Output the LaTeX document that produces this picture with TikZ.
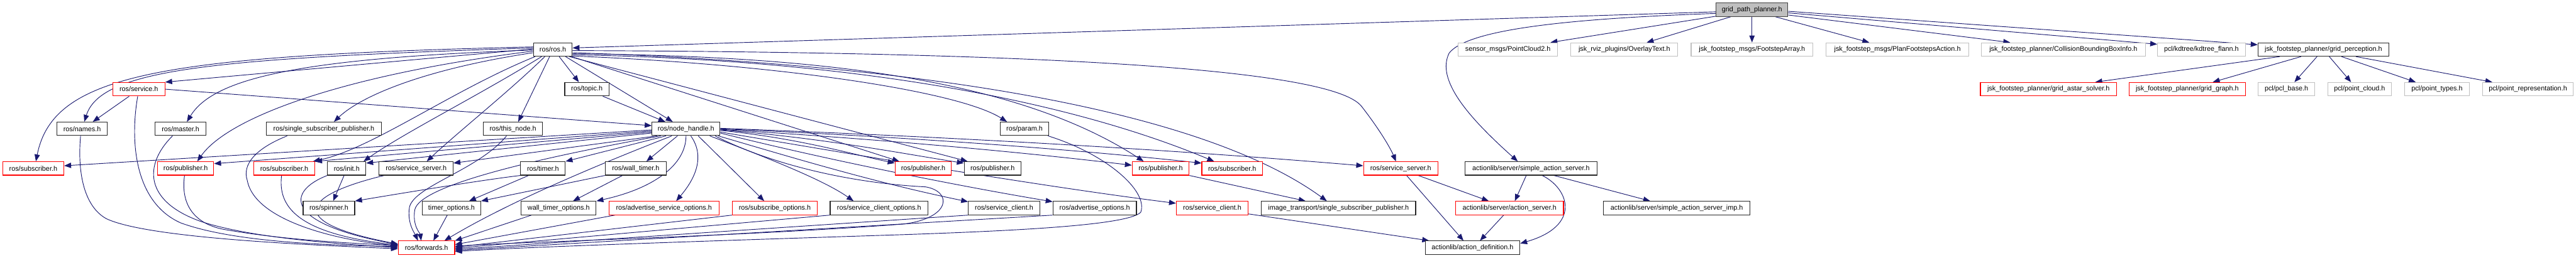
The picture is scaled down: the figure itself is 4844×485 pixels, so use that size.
\documentclass[tikz,border=0pt]{standalone}
\usepackage{fontspec}
\setmainfont{Liberation Sans}
\usetikzlibrary{arrows.meta,calc}
\definecolor{edgec}{HTML}{191970}
\definecolor{redb}{HTML}{FF0000}
\definecolor{grayb}{HTML}{BFBFBF}
\pgfdeclarelayer{bg}
\pgfsetlayers{bg,main}
\begin{document}
\begin{tikzpicture}[x=1pt,y=-1pt,
 box/.style={draw, line width=1.3pt, minimum height=25.3pt, inner sep=0pt, font=\fontsize{12.8}{14}\selectfont, anchor=center, fill=white},
 bk/.style={box, draw=black!85},
 rd/.style={box, draw=redb},
 gy/.style={box, draw=grayb},
 topbox/.style={box, draw=black!75, fill=grayb},
 lnk/.style={draw=edgec, line width=1.1pt, -{Triangle[length=13pt,width=10pt]}}
]
\useasboundingbox (0,0) rectangle (4844,485);
% row 0
\node[topbox, minimum width=135pt] (gpp) at (3294.5,18.3) {grid\_path\_planner.h};
% row 1
\node[bk, minimum width=73pt] (ros) at (1039.5,93.3) {ros/ros.h};
\node[gy, minimum width=187pt] (pc2) at (2835.5,93.3) {sensor\_msgs/PointCloud2.h};
\node[gy, minimum width=201pt] (overlay) at (3054.5,93.3) {jsk\_rviz\_plugins/OverlayText.h};
\node[gy, minimum width=229pt] (fsarray) at (3294.5,93.3) {jsk\_footstep\_msgs/FootstepArray.h};
\node[gy, minimum width=268pt] (planfs) at (3568,93.3) {jsk\_footstep\_msgs/PlanFootstepsAction.h};
\node[gy, minimum width=308pt] (cbbi) at (3880,93.3) {jsk\_footstep\_planner/CollisionBoundingBoxInfo.h};
\node[gy, minimum width=165pt] (kdtree) at (4139.5,93.3) {pcl/kdtree/kdtree\_flann.h};
\node[bk, minimum width=246pt] (gridperc) at (4369,93.3) {jsk\_footstep\_planner/grid\_perception.h};
% row 2
\node[rd, minimum width=98pt] (service) at (261,168) {ros/service.h};
\node[bk, minimum width=83pt] (topic) at (1103.5,168) {ros/topic.h};
\node[rd, minimum width=256pt] (astar) at (3852,168) {jsk\_footstep\_planner/grid\_astar\_solver.h};
\node[rd, minimum width=218pt] (gridgraph) at (4113,168) {jsk\_footstep\_planner/grid\_graph.h};
\node[gy, minimum width=107pt] (pclbase) at (4299.5,168) {pcl/pcl\_base.h};
\node[gy, minimum width=120pt] (pointcloud) at (4437,168) {pcl/point\_cloud.h};
\node[gy, minimum width=121pt] (pointtypes) at (4582.5,168) {pcl/point\_types.h};
\node[gy, minimum width=171pt] (pointrep) at (4753.5,168) {pcl/point\_representation.h};
% row 3
\node[bk, minimum width=95pt] (names) at (154.5,242.7) {ros/names.h};
\node[bk, minimum width=95pt] (master) at (339.5,242.7) {ros/master.h};
\node[bk, minimum width=216pt] (ssp) at (609,242.7) {ros/single\_subscriber\_publisher.h};
\node[bk, minimum width=111pt] (thisnode) at (964.5,242.7) {ros/this\_node.h};
\node[bk, minimum width=128pt] (nh) at (1290,242.7) {ros/node\_handle.h};
\node[bk, minimum width=91pt] (param) at (1926.5,242.7) {ros/param.h};
% row 4
\node[rd, minimum width=115pt] (sub1) at (62.5,317.3) {ros/subscriber.h};
\node[rd, minimum width=106pt] (pub1) at (349,317.3) {ros/publisher.h};
\node[rd, minimum width=115pt] (sub2) at (534.5,317.3) {ros/subscriber.h};
\node[bk, minimum width=72pt] (init) at (652,317.3) {ros/init.h};
\node[bk, minimum width=139pt] (ssrv) at (782.5,317.3) {ros/service\_server.h};
\node[bk, minimum width=84pt] (timer) at (1021,317.3) {ros/timer.h};
\node[bk, minimum width=115pt] (wtimer) at (1195.5,317.3) {ros/wall\_timer.h};
\node[rd, minimum width=106pt] (pub2) at (1736,317.3) {ros/publisher.h};
\node[bk, minimum width=107pt] (pubb) at (1866.5,317.3) {ros/publisher.h};
\node[rd, minimum width=107pt] (pub3) at (2182.5,317.3) {ros/publisher.h};
\node[rd, minimum width=114pt] (sub3) at (2317,317.3) {ros/subscriber.h};
\node[rd, minimum width=140pt] (rssrv) at (2634,317.3) {ros/service\_server.h};
\node[bk, minimum width=248pt] (sas) at (2879,317.3) {actionlib/server/simple\_action\_server.h};
% row 5
\node[bk, minimum width=97pt] (spinner) at (618.5,392) {ros/spinner.h};
\node[bk, minimum width=110pt] (topts) at (849,392) {timer\_options.h};
\node[bk, minimum width=141pt] (wtopts) at (1050.5,392) {wall\_timer\_options.h};
\node[rd, minimum width=207pt] (asopts) at (1248.5,392) {ros/advertise\_service\_options.h};
\node[rd, minimum width=160pt] (subopts) at (1457,392) {ros/subscribe\_options.h};
\node[bk, minimum width=184pt] (scopts) at (1653,392) {ros/service\_client\_options.h};
\node[bk, minimum width=134pt] (sclient) at (1888,392) {ros/service\_client.h};
\node[bk, minimum width=157pt] (advopts) at (2058.5,392) {ros/advertise\_options.h};
\node[rd, minimum width=135pt] (rsclient) at (2279.5,392) {ros/service\_client.h};
\node[bk, minimum width=290pt] (itssp) at (2517,392) {image\_transport/single\_subscriber\_publisher.h};
\node[rd, minimum width=203pt] (as) at (2838.5,392) {actionlib/server/action\_server.h};
\node[bk, minimum width=276pt] (sasimp) at (3153,392) {actionlib/server/simple\_action\_server\_imp.h};
% row 6
\node[rd, minimum width=106pt] (fwd) at (802,466.7) {ros/forwards.h};
\node[bk, minimum width=178pt] (ad) at (2769,466.7) {actionlib/action\_definition.h};

\begin{pgfonlayer}{bg}
\fill[white] (0,0) rectangle (4844,485);
% grid_path_planner
\draw[lnk] ($(gpp.west)+(0,4)$) -- ($(ros.east)+(0,-3)$);
\draw[lnk] ($(gpp.west)+(0,7)$) .. controls (2950,35) and (2760,55) .. (2725,100) .. controls (2700,150) and (2760,220) .. ($(sas.north)+(-25,0)$);
\draw[lnk] ($(gpp.south west)+(0,-1)$) -- ($(pc2.north)+(80,0)$);
\draw[lnk] ($(gpp.south)+(-40,0)$) -- ($(overlay.north)+(42,0)$);
\draw[lnk] (gpp.south) -- (fsarray.north);
\draw[lnk] ($(gpp.south)+(44,0)$) -- ($(planfs.north)+(-53,0)$);
\draw[lnk] ($(gpp.east)+(0,10)$) -- ($(cbbi.north)+(-100,0)$);
\draw[lnk] ($(gpp.east)+(0,6)$) -- ($(kdtree.west)+(0,-10)$);
\draw[lnk] ($(gpp.east)+(0,3)$) -- ($(gridperc.west)+(0,-9)$);
% grid_perception
\draw[lnk] ($(gridperc.south)+(-82,0)$) -- ($(astar.north)+(88,0)$);
\draw[lnk] ($(gridperc.south)+(-42,0)$) -- ($(gridgraph.north)+(48,0)$);
\draw[lnk] ($(gridperc.south)+(-12,0)$) -- ($(pclbase.north)+(15,0)$);
\draw[lnk] ($(gridperc.south)+(11,0)$) -- ($(pointcloud.north)+(-16,0)$);
\draw[lnk] ($(gridperc.south)+(34,0)$) -- ($(pointtypes.north)+(-40,0)$);
\draw[lnk] ($(gridperc.south)+(61,0)$) -- ($(pointrep.north)+(-67,0)$);
% actionlib
\draw[lnk] ($(sas.south)+(-9,0)$) -- ($(as.north)+(10,0)$);
\draw[lnk] ($(sas.south)+(21,0)$) .. controls (2950,355) and (2975,425) .. ($(ad.east)+(0,-8)$);
\draw[lnk] ($(sas.south)+(43,0)$) -- ($(sasimp.north)+(-50,0)$);
\draw[lnk] ($(rssrv.south)+(11,0)$) -- ($(ad.north)+(-17,0)$);
\draw[lnk] ($(rssrv.south)+(33,0)$) -- ($(as.north)+(-39,0)$);
\draw[lnk] ($(as.south)+(-11,0)$) -- ($(ad.north)+(14,0)$);
\draw[lnk] ($(rsclient.east)+(0,11)$) -- ($(ad.north west)+(8,0)$);
\draw[lnk] (pub3.south east) -- ($(itssp.north)+(-62,0)$);
% ros/ros.h
\draw[lnk] ($(ros.east)+(0,6)$) .. controls (1700,120) and (2250,200) .. ($(itssp.north)+(-22,0)$);
\draw[lnk] ($(ros.east)+(0,2)$) .. controls (1900,98) and (2500,125) .. (2560,200) .. controls (2595,245) and (2615,280) .. ($(rssrv.north)+(-9,0)$);
\draw[lnk] ($(ros.east)+(0,8)$) .. controls (1500,105) and (1900,140) .. ($(pub3.north)+(-32,0)$);
\draw[lnk] ($(ros.east)+(0,10)$) .. controls (1500,110) and (1950,165) .. ($(sub3.north)+(-34,0)$);
\draw[lnk] ($(ros.south east)+(0,-1)$) .. controls (1450,120) and (1800,170) .. ($(param.north)+(-33,0)$);
\draw[lnk] ($(ros.south east)+(-2,0)$) -- ($(pub2.north)+(-45,0)$);
\draw[lnk] ($(ros.south east)+(-6,0)$) -- ($(pubb.north)+(-47,0)$);
\draw[lnk] ($(ros.south)+(24,0)$) -- ($(nh.north)+(-25,0)$);
\draw[lnk] ($(topic.south)+(30,0)$) -- ($(nh.north)+(-39,0)$);
\draw[lnk] ($(ros.south)+(12,0)$) -- ($(topic.north)+(-15,0)$);
\draw[lnk] ($(ros.south)+(-6,0)$) -- ($(thisnode.north)+(10,0)$);
\draw[lnk] ($(ros.south)+(-15,0)$) .. controls (960,170) and (860,250) .. ($(ssrv.north)+(20,0)$);
\draw[lnk] ($(ros.south)+(-21,0)$) .. controls (900,180) and (760,250) .. ($(init.north east)+(-5,0)$);
\draw[lnk] ($(ros.south west)+(4,0)$) .. controls (850,170) and (700,280) .. ($(sub2.north east)+(-4,0)$);
\draw[lnk] ($(ros.west)+(0,6)$) .. controls (800,130) and (680,180) .. ($(ssp.north)+(19,0)$);
\draw[lnk] ($(ros.west)+(0,3)$) .. controls (650,140) and (430,220) .. ($(pub1.north)+(22,0)$);
\draw[lnk] ($(ros.west)+(0,1)$) .. controls (550,110) and (400,150) .. ($(master.north)+(12,0)$);
\draw[lnk] ($(ros.west)+(0,-1)$) -- (service.north east);
\draw[lnk] ($(ros.west)+(0,-3)$) .. controls (400,110) and (190,130) .. ($(names.north)+(4,0)$);
\draw[lnk] ($(ros.west)+(0,-5)$) .. controls (300,105) and (100,140) .. ($(sub1.north)+(5,0)$);
% ros/service.h
\draw[lnk] ($(service.south)+(-18,0)$) -- ($(names.north)+(20,0)$);
\draw[lnk] (service.east) -- ($(nh.west)+(0,-6)$);
\draw[lnk] ($(service.south)+(-2,0)$) .. controls (245,260) and (250,380) .. (340,420) .. controls (450,460) and (650,462) .. ($(fwd.west)+(0,-2)$);
% into forwards from the left
\draw[lnk] ($(names.south)+(-3,0)$) .. controls (145,330) and (160,390) .. (200,412) .. controls (280,450) and (600,462) .. ($(fwd.west)+(0,2)$);
\draw[lnk] ($(master.south)+(-15,0)$) .. controls (270,310) and (270,380) .. (380,418) .. controls (480,450) and (650,460) .. (fwd.west);
\draw[lnk] ($(pub1.south)+(-2,0)$) .. controls (340,380) and (360,420) .. (420,432) .. controls (550,455) and (680,458) .. ($(fwd.west)+(0,-3)$);
\draw[lnk] ($(ssp.south)+(-69,0)$) .. controls (480,280) and (455,310) .. (465,340) .. controls (480,420) and (650,455) .. ($(fwd.west)+(0,-4)$);
\draw[lnk] ($(sub2.south)+(-5,0)$) .. controls (522,390) and (560,440) .. ($(fwd.west)+(0,-5)$);
\draw[lnk] (init.south west) .. controls (540,360) and (530,420) .. ($(fwd.west)+(0,-6)$);
\draw[lnk] ($(ssrv.south west)+(10,0)$) .. controls (560,370) and (540,420) .. ($(fwd.west)+(0,-7)$);
\draw[lnk] ($(init.south)+(-5,0)$) -- ($(spinner.north)+(8,0)$);
\draw[lnk] ($(thisnode.south)+(-12,0)$) .. controls (900,320) and (780,350) .. (770,390) .. controls (765,420) and (780,440) .. ($(fwd.north)+(-16,0)$);
% timers
\draw[lnk] (timer.south west) .. controls (900,340) and (750,365) .. (spinner.north east);
\draw[lnk] ($(timer.south)+(-27,0)$) -- ($(topts.north)+(33,0)$);
\draw[lnk] (wtimer.south west) -- (topts.north east);
\draw[lnk] ($(wtimer.south)+(-25,0)$) -- ($(wtopts.north)+(27,0)$);
\draw[lnk] ($(topts.south)+(-8,0)$) -- ($(fwd.north)+(13,0)$);
\draw[lnk] ($(wtopts.south west)+(20,0)$) -- (fwd.north east);
% node_handle downwards and left
\draw[lnk] ($(nh.south west)+(10,0)$) -- ($(ssrv.east)+(0,-10)$);
\draw[lnk] ($(nh.south west)+(17,0)$) .. controls (1000,300) and (790,350) .. (780,395) .. controls (775,425) and (790,440) .. ($(fwd.north)+(-10,0)$);
\draw[lnk] ($(nh.south west)+(27,0)$) -- (timer.north east);
\draw[lnk] ($(nh.south west)+(38,0)$) .. controls (1100,320) and (950,385) .. ($(fwd.north east)+(-20,0)$);
\draw[lnk] ($(nh.south)+(-16,0)$) -- ($(wtimer.north)+(20,0)$);
\draw[lnk] (nh.south) .. controls (1290,310) and (1230,355) .. (wtopts.north east);
\draw[lnk] ($(nh.south)+(9,0)$) .. controls (1330,300) and (1300,345) .. ($(asopts.north)+(23,0)$);
\draw[lnk] ($(nh.south)+(23,0)$) -- ($(subopts.north)+(-20,0)$);
\draw[lnk] ($(nh.south east)+(-20,0)$) .. controls (1450,300) and (1550,340) .. ($(scopts.north)+(-48,0)$);
\draw[lnk] ($(nh.west)+(0,2)$) -- ($(sub1.east)+(0,-5)$);
\draw[lnk] ($(nh.west)+(0,4)$) -- ($(pub1.east)+(0,-9)$);
\draw[lnk] ($(nh.west)+(0,6)$) -- (sub2.north east);
\draw[lnk] ($(nh.west)+(0,8)$) -- ($(init.east)+(0,-10)$);
% node_handle to the right
\draw[lnk] ($(nh.east)+(0,3)$) .. controls (1500,260) and (1600,290) .. ($(pub2.west)+(0,-10)$);
\draw[lnk] ($(nh.east)+(0,2)$) .. controls (1550,260) and (1700,290) .. ($(pubb.west)+(0,-10)$);
\draw[lnk] ($(nh.east)+(0,1)$) .. controls (1700,265) and (1950,290) .. ($(pub3.west)+(0,-6)$);
\draw[lnk] (nh.east) .. controls (1800,262) and (2100,290) .. ($(sub3.west)+(0,-10)$);
\draw[lnk] ($(nh.east)+(0,-1)$) .. controls (1900,262) and (2300,290) .. ($(rssrv.west)+(0,-5)$);
\draw[lnk] ($(nh.south east)+(-4,0)$) .. controls (1500,300) and (1650,345) .. ($(sclient.west)+(0,-12)$);
\draw[lnk] ($(nh.east)+(0,8)$) .. controls (1550,300) and (1800,350) .. ($(advopts.west)+(0,-12)$);
\draw[lnk] ($(nh.east)+(0,6)$) .. controls (1600,290) and (1950,350) .. ($(rsclient.west)+(0,-9)$);
\draw[lnk] ($(nh.south east)+(-10,0)$) .. controls (1450,310) and (1600,345) .. (1740,352) .. controls (1790,360) and (1790,410) .. (1700,422) .. controls (1400,445) and (1000,455) .. ($(fwd.east)+(0,-3)$);
% options into forwards from the right
\draw[lnk] ($(asopts.south west)+(12,0)$) -- ($(fwd.east)+(0,-6)$);
\draw[lnk] (subopts.south west) -- ($(fwd.east)+(0,-1)$);
\draw[lnk] (scopts.south west) -- ($(fwd.east)+(0,1)$);
\draw[lnk] (sclient.south west) -- ($(fwd.east)+(0,3)$);
\draw[lnk] (advopts.south west) -- ($(fwd.east)+(0,5)$);
\draw[lnk] ($(param.south east)+(-2,0)$) .. controls (2080,290) and (2160,360) .. (2145,400) .. controls (2120,425) and (1900,435) .. (1700,442) .. controls (1300,455) and (1000,465) .. ($(fwd.east)+(0,7)$);
\end{pgfonlayer}
\end{tikzpicture}
\end{document}
